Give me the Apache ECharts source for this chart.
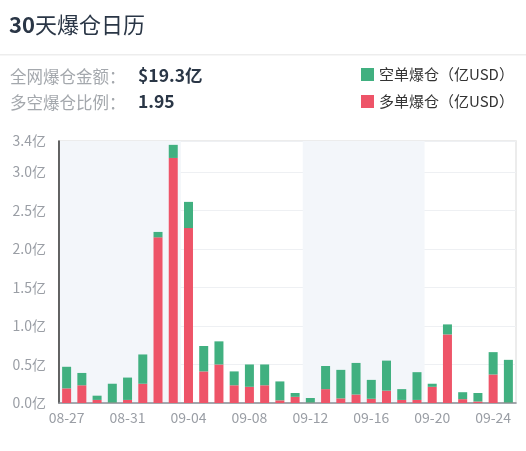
<!DOCTYPE html>
<html>
<head>
<meta charset="utf-8">
<script src="https://cdn.jsdelivr.net/npm/echarts@6/dist/echarts.min.js"></script>
<style>
html,body{margin:0;padding:0;background:#fff;}
#c{width:526px;height:451px;}
</style>
</head>
<body>
<div id="c"></div>
<script>
const categories = ['08-27','08-28','08-29','08-30','08-31','09-01','09-02','09-03','09-04','09-05',
  '09-06','09-07','09-08','09-09','09-10','09-11','09-12','09-13','09-14','09-15',
  '09-16','09-17','09-18','09-19','09-20','09-21','09-22','09-23','09-24','09-25'];
const longLiq = [0.19,0.23,0.04,0.005,0.04,0.25,2.15,3.18,2.27,0.41,
  0.50,0.23,0.21,0.23,0.035,0.08,0.005,0.18,0.06,0.11,
  0.055,0.16,0.04,0.04,0.21,0.89,0.05,0.02,0.37,0.005];
const shortLiq = [0.28,0.16,0.055,0.245,0.29,0.38,0.07,0.17,0.34,0.33,
  0.30,0.18,0.29,0.27,0.245,0.05,0.06,0.30,0.37,0.41,
  0.245,0.39,0.14,0.36,0.04,0.13,0.09,0.11,0.29,0.555];
const yTicks = [0,0.5,1.0,1.5,2.0,2.5,3.0,3.4];
const seriesNames = ['空单爆仓（亿USD）','多单爆仓（亿USD）'];
const totalText = '$19.3亿';
const ratioText = '1.95';

const FONT = '"Noto Sans CJK SC","Noto Sans",sans-serif';
const GREEN = '#41b080';
const RED = '#ee5468';

const chart = echarts.init(document.getElementById('c'));
chart.setOption({
  animation: false,
  textStyle: {fontFamily: FONT},
  graphic: [
    {type:'text', left: 9, top: 14, style:{
      text:'{b|30}{n|天爆仓日历}', fontFamily: FONT,
      rich:{
        b:{fontSize:22, fontWeight:'bold', fill:'#2a3646', fontFamily: FONT},
        n:{fontSize:22, fontWeight:'normal', fill:'#2a3646', fontFamily: FONT}
      }}},
    {type:'rect', shape:{x:0,y:54,width:526,height:1.5}, style:{fill:'#ededed'}},
    {type:'text', left: 10, top: 68, style:{text:'全网爆仓金额：', fontSize:16.5, fill:'#a4a8ad', fontFamily: FONT}},
    {type:'text', left: 138, top: 67, style:{text:totalText, fontSize:17.5, fontWeight:'bold', fill:'#2a3646', fontFamily: FONT}},
    {type:'text', left: 10, top: 94, style:{text:'多空爆仓比例：', fontSize:16.5, fill:'#a4a8ad', fontFamily: FONT}},
    {type:'text', left: 138, top: 93, style:{text:ratioText, fontSize:17.5, fontWeight:'bold', fill:'#2a3646', fontFamily: FONT}}
  ],
  legend: {
    orient:'vertical', left: 356, top: 62,
    itemWidth: 13, itemHeight: 13, itemGap: 12,
    icon: 'rect',
    data: seriesNames,
    textStyle:{fontSize:15, color:'#333', fontFamily: FONT}
  },
  grid: {left:59, right:10, top:141, bottom:48, show:true, borderColor:'#e6e6e6', borderWidth:1.5, backgroundColor:'transparent'},
  xAxis: {
    type:'category', data: categories, boundaryGap:true,
    axisLine:{show:true, lineStyle:{color:'#8a8f96', width:1.5}},
    axisTick:{show:false},
    axisLabel:{interval:3, color:'#9a9ea5', fontSize:14, margin:8, fontFamily: FONT},
    splitArea:{show:true, interval:7, areaStyle:{color:['#f3f6fa','rgba(255,255,255,0)']}},
    splitLine:{show:false}
  },
  yAxis: {
    type:'value', min:0, max:yTicks[yTicks.length-1], interval:0.5,
    axisLine:{show:true, lineStyle:{color:'#333', width:1.5}},
    axisTick:{show:false},
    axisLabel:{color:'#9a9ea5', fontSize:14, margin:13, fontFamily: FONT,
      formatter: v => v.toFixed(1) + '亿'},
    splitLine:{show:true, lineStyle:{color:'#eef0f3', width:1}}
  },
  series: [
    {name: seriesNames[1], type:'bar', stack:'liq', data: longLiq, barWidth:9,
      itemStyle:{color:RED}},
    {name: seriesNames[0], type:'bar', stack:'liq', data: shortLiq, barWidth:9,
      itemStyle:{color:GREEN}}
  ],
  color:[RED, GREEN]
});
</script>
</body>
</html>
